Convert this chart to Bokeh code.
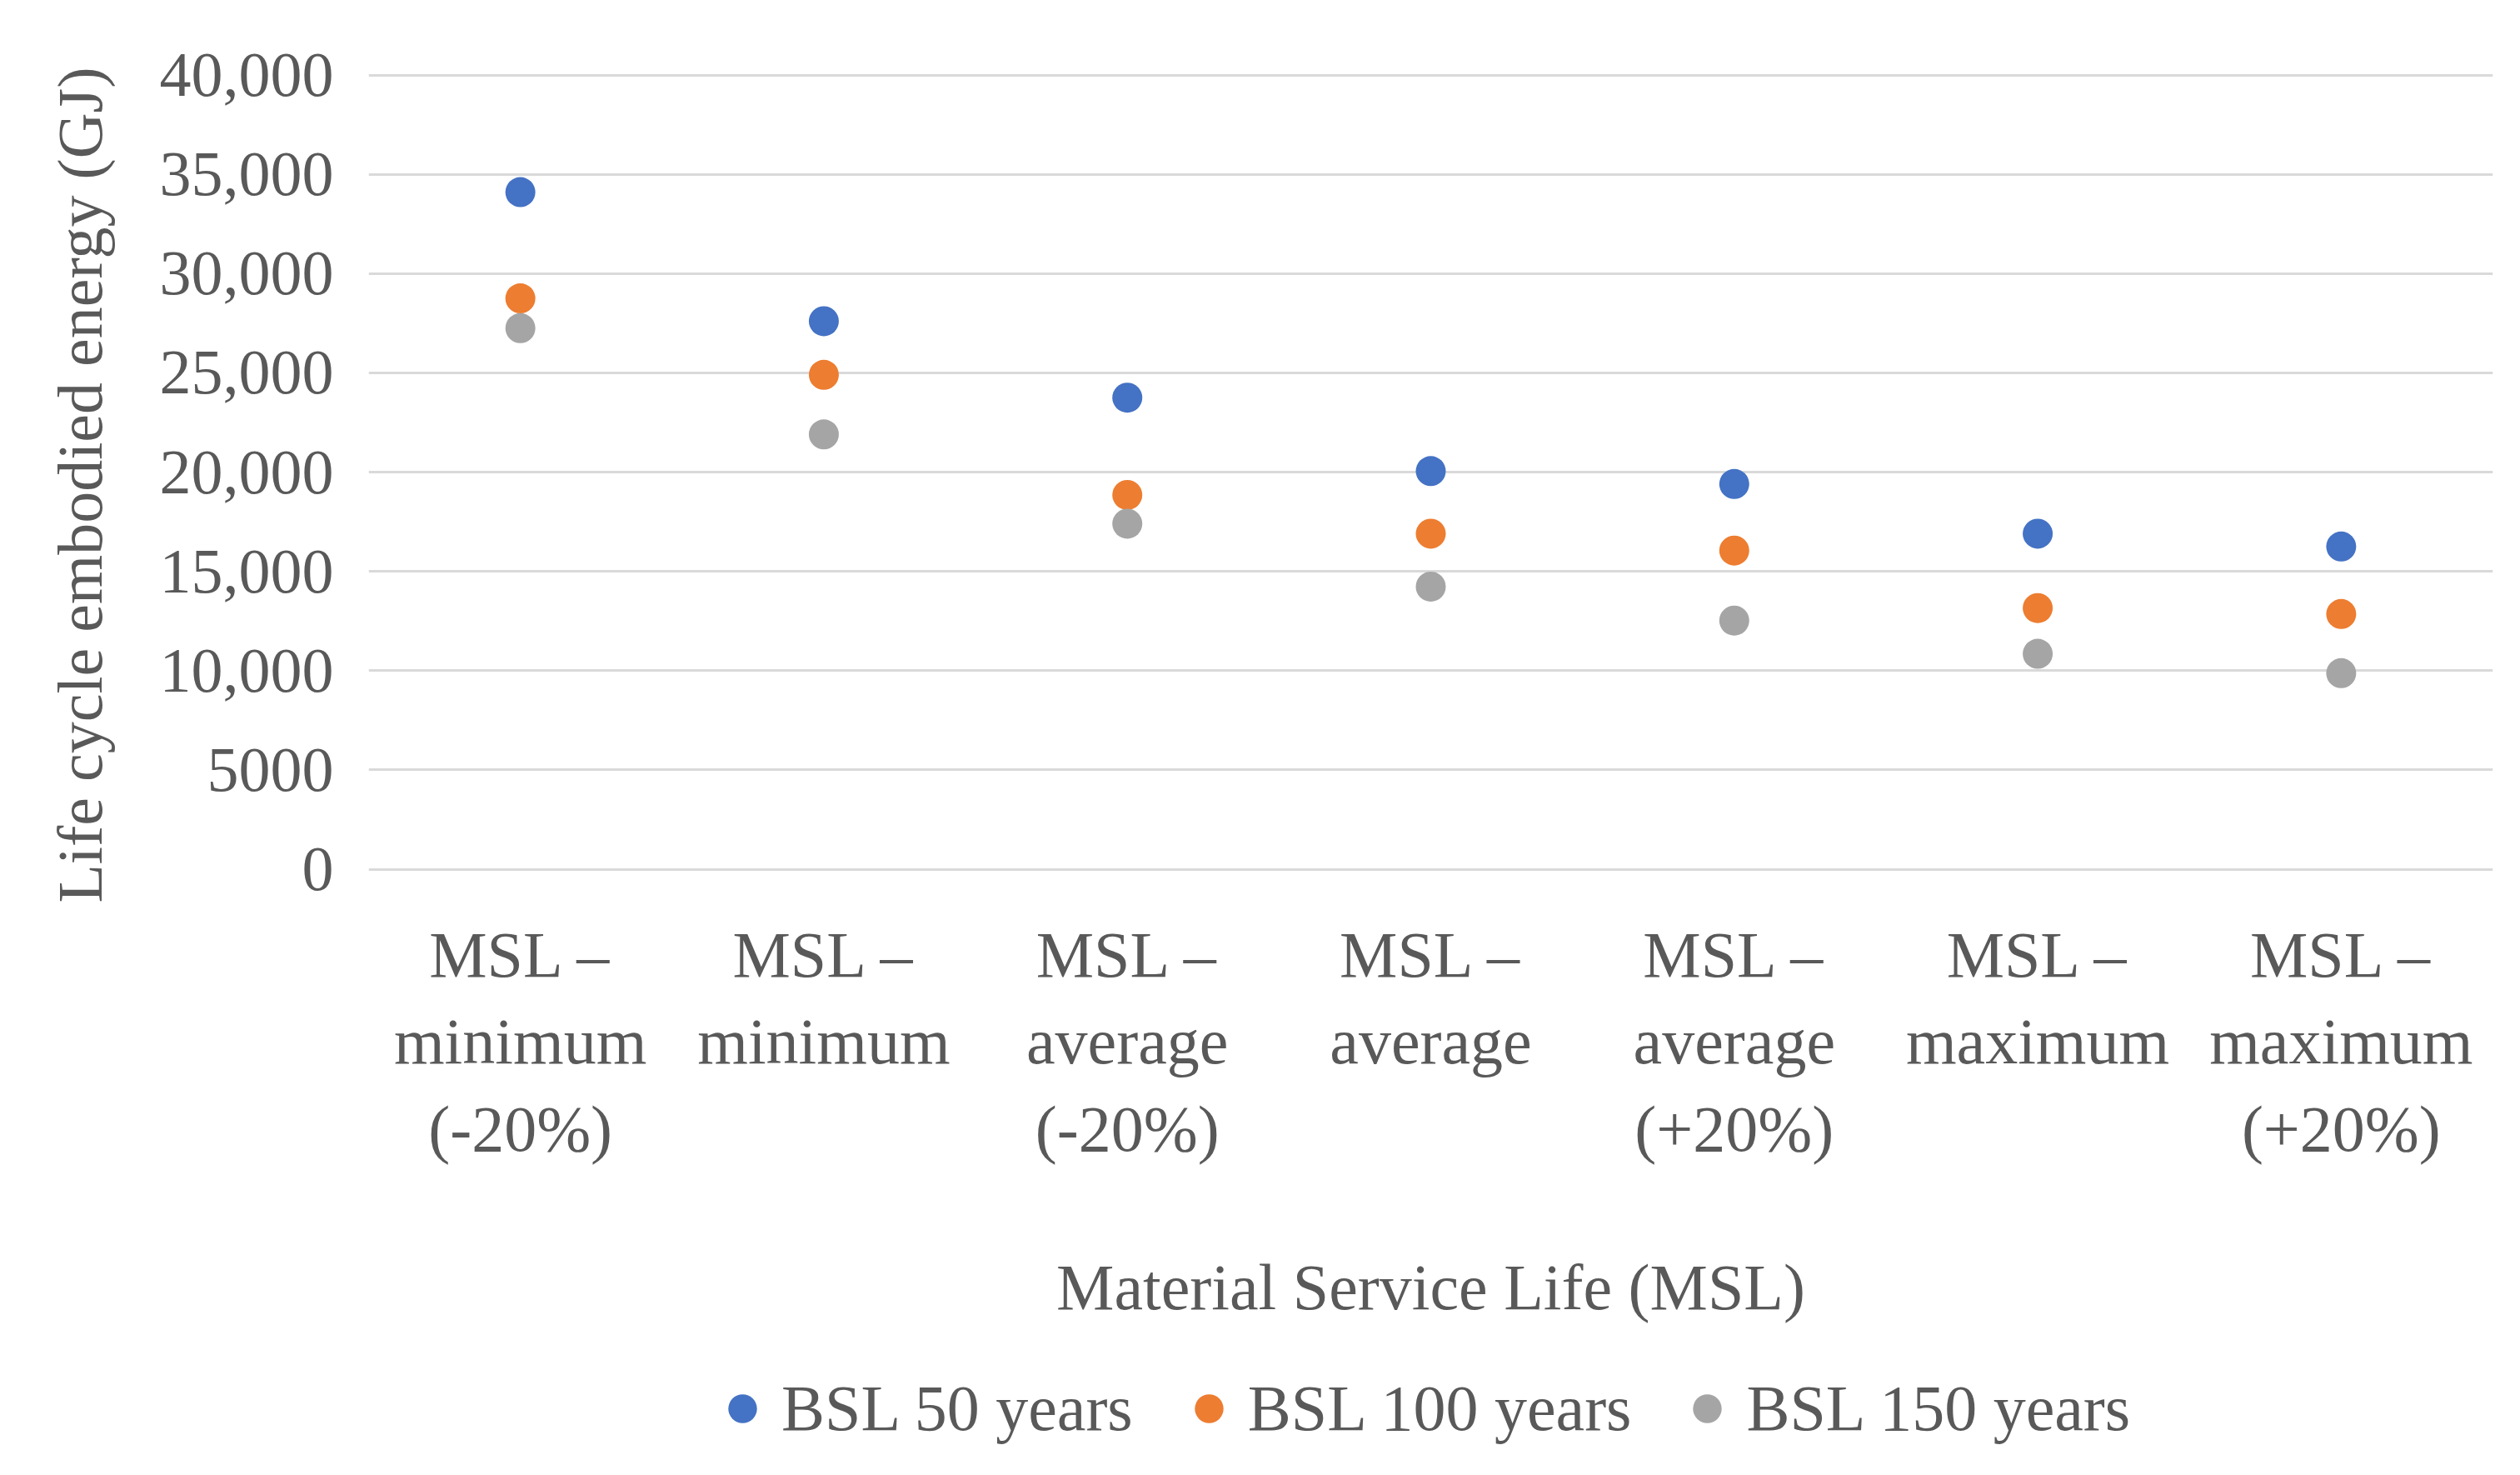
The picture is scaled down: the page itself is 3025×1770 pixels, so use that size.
from bokeh.plotting import figure
from bokeh.models import FactorRange, Range1d, Legend, LegendItem, FixedTicker, ColumnDataSource, Title
from bokeh.embed import file_html
from bokeh.resources import INLINE

categories = [
    "MSL –\nminimum\n(-20%)",
    "MSL –\nminimum",
    "MSL –\naverage\n(-20%)",
    "MSL –\naverage",
    "MSL –\naverage\n(+20%)",
    "MSL –\nmaximum",
    "MSL –\nmaximum\n(+20%)",
]
bsl_50 = [34100, 27600, 23750, 20050, 19400, 16900, 16250]
bsl_100 = [28750, 24900, 18850, 16900, 16050, 13150, 12850]
bsl_150 = [27250, 21900, 17400, 14230, 12520, 10850, 9870]
series_names = ["BSL 50 years", "BSL 100 years", "BSL 150 years"]
series_colors = ["#4472C4", "#ED7D31", "#A5A5A5"]
y_ticks = [0, 5000, 10000, 15000, 20000, 25000, 30000, 35000, 40000]
y_tick_labels = ["0", "5000", "10,000", "15,000", "20,000", "25,000", "30,000", "35,000", "40,000"]

FONT = "Liberation Serif"
TXT = "#595959"
FS = "76px"

# the frame extends below the value axis so that the category labels,
# the axis title and the legend all sit inside it
p = figure(
    frame_width=2550, frame_height=1680,
    x_range=FactorRange(factors=categories, range_padding=0),
    y_range=Range1d(-30115, 40400),
    output_backend="svg", toolbar_location=None,
    min_border_left=440, min_border_right=20, min_border_top=80, min_border_bottom=0,
)
p.outline_line_color = None
p.background_fill_color = "white"
p.border_fill_color = "white"

p.xgrid.grid_line_color = None
p.ygrid.grid_line_color = "#D9D9D9"
p.ygrid.grid_line_width = 3

p.yaxis.ticker = FixedTicker(ticks=y_ticks)
p.yaxis.major_label_overrides = {t: l for t, l in zip(y_ticks, y_tick_labels)}

for ax in (p.xaxis[0], p.yaxis[0]):
    ax.axis_line_color = None
    ax.major_tick_line_color = None
    ax.minor_tick_line_color = None
    ax.major_tick_in = 0
    ax.major_tick_out = 0
    ax.major_label_text_font = FONT
    ax.major_label_text_font_size = FS
    ax.major_label_text_color = TXT
    ax.axis_label_text_font = FONT
    ax.axis_label_text_font_size = FS
    ax.axis_label_text_color = TXT
    ax.axis_label_text_font_style = "normal"

p.yaxis.major_label_standoff = 42

p.xaxis.fixed_location = 0
p.xaxis.major_label_text_font_size = "78px"
p.xaxis.axis_label_text_font_size = "78px"
p.xaxis.axis_label = "Material Service Life (MSL)"
p.xaxis.major_label_standoff = 59
p.xaxis.axis_label_standoff = 100
p.xaxis.major_label_orientation = "horizontal"

ytitle = Title(
    text="Life cycle embodied energy (GJ)", align="right",
    text_font=FONT, text_font_size=FS, text_color=TXT, text_font_style="normal",
    standoff=102,
)
p.add_layout(ytitle, "left")

renderers = []
for name, vals, col in zip(series_names, [bsl_50, bsl_100, bsl_150], series_colors):
    src = ColumnDataSource(dict(x=categories, y=vals))
    r = p.scatter("x", "y", source=src, size=36, fill_color=col, line_color=None)
    renderers.append(r)

legend = Legend(
    items=[LegendItem(label=n, renderers=[r]) for n, r in zip(series_names, renderers)],
    orientation="horizontal", location=(406, 25),
    label_text_font=FONT, label_text_font_size="78px", label_text_color=TXT,
    glyph_width=86, glyph_height=86, label_standoff=4, spacing=48,
    border_line_color=None, background_fill_alpha=0, padding=0, margin=0,
)
p.add_layout(legend, "center")

open("out.html", "w").write(file_html(p, INLINE))
